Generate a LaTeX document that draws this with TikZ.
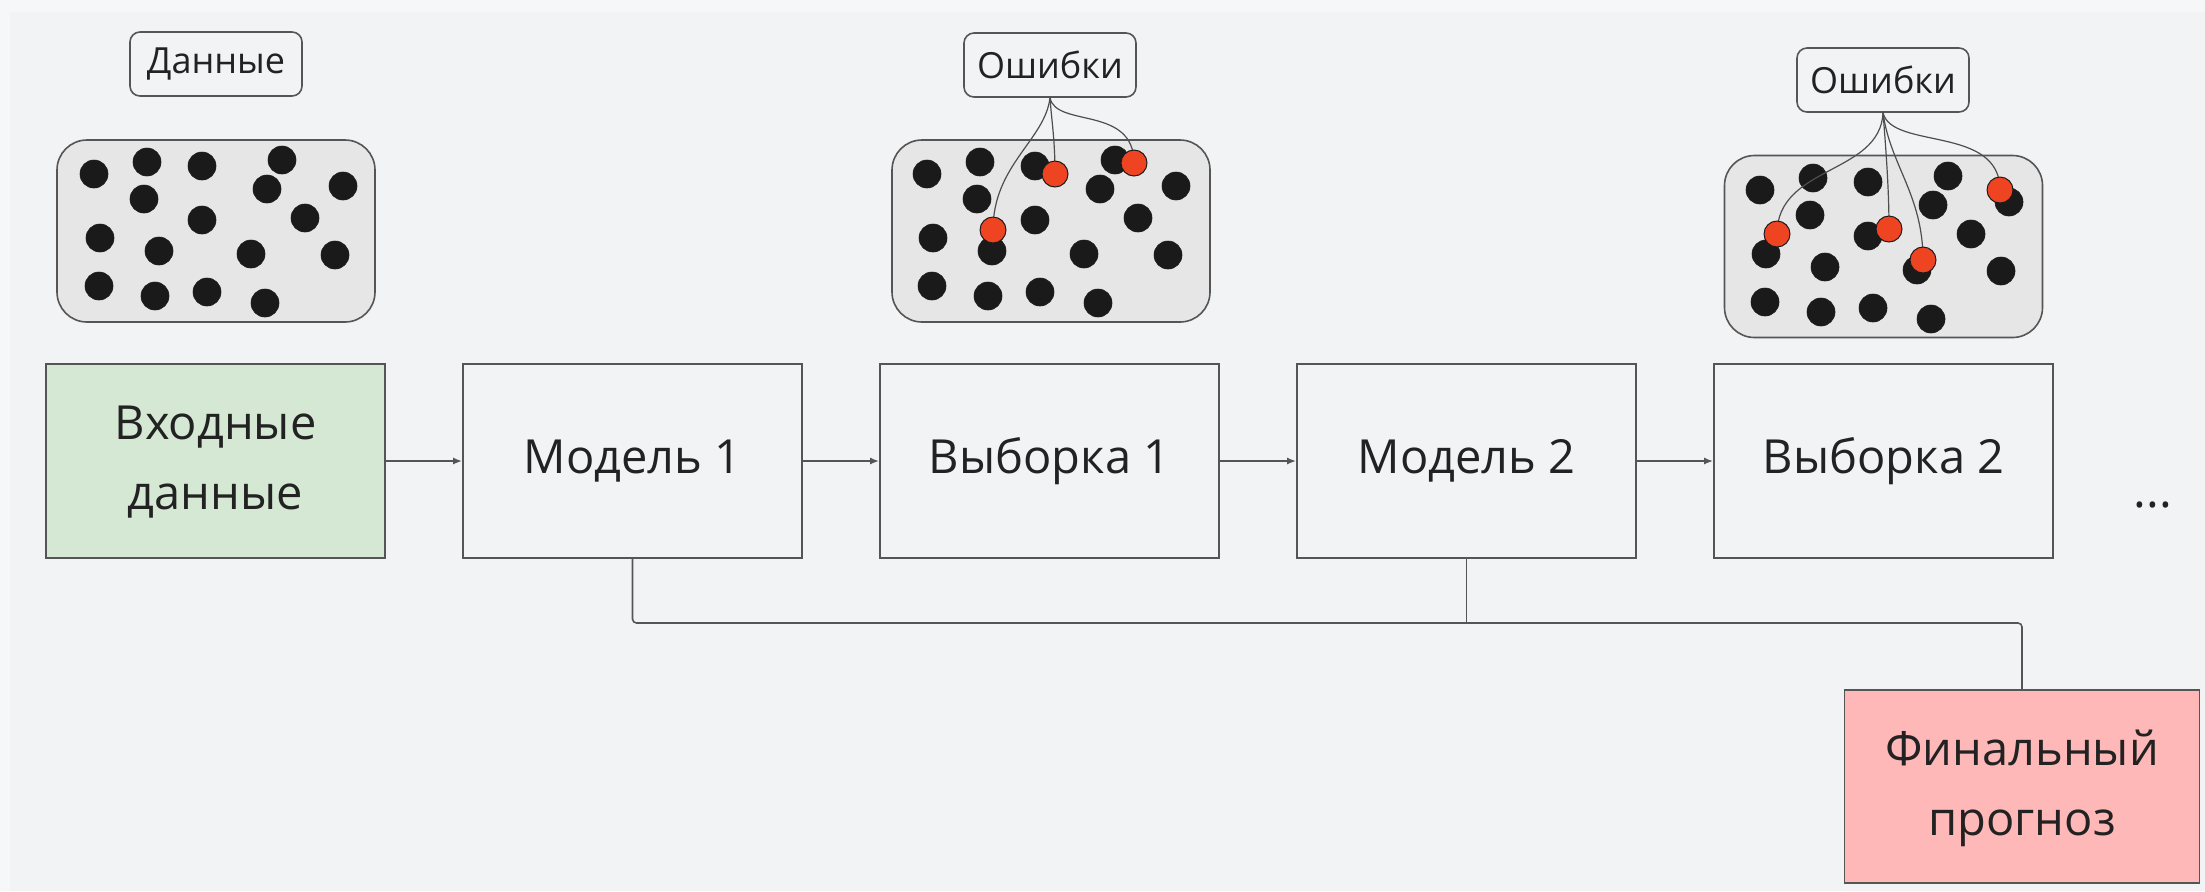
\documentclass[tikz,border=0pt]{standalone}
\usepackage{fontspec}
\setmainfont{Open Sans}
\usetikzlibrary{arrows.meta}
\definecolor{bg}{HTML}{F2F3F5}
\definecolor{bgout}{HTML}{F6F7F8}
\definecolor{edge}{HTML}{555555}
\definecolor{greenfill}{HTML}{D5E8D4}
\definecolor{pinkfill}{HTML}{FFB8B8}
\definecolor{poolfill}{HTML}{E6E6E6}
\definecolor{dot}{HTML}{1A1A1A}
\definecolor{err}{HTML}{EE4422}
\definecolor{txt}{HTML}{222222}
\begin{document}
\begin{tikzpicture}[x=0.5pt,y=-0.5pt,
  stage/.style={draw=edge, line width=0.9pt, fill=bg, minimum width=169.5pt, minimum height=97pt,
    inner sep=0pt, align=center, font=\fontsize{23.5}{34}\selectfont, text=txt},
  tag/.style={draw=edge, line width=0.8pt, fill=bg, rounded corners=5pt, minimum width=86pt,
    minimum height=32pt, inner sep=0pt, font=\fontsize{18}{20}\selectfont, text=txt},
  pool/.style={draw=edge, line width=0.8pt, fill=poolfill, rounded corners=15pt,
    minimum width=159pt, minimum height=91pt, inner sep=0pt},
  flow/.style={draw=edge, line width=0.8pt, -{Latex[length=4.5pt,width=3.5pt]}},
  bus/.style={draw=edge, line width=0.8pt, rounded corners=2pt},
  pick/.style={draw=txt!80, line width=0.6pt},
  errdot/.style={circle, draw=dot, line width=0.5pt, fill=err, minimum size=13pt, inner sep=0pt},
  blackdot/.style={fill=dot, draw=dot, line width=0.3pt},
]
% background
\fill[bgout] (0,0) rectangle (2205,891);
\fill[bg] (10,12) rectangle (2205,891);
\useasboundingbox (0,0) rectangle (2205,891);

% stage boxes
\node[stage, fill=greenfill] (in) at (215.5,461) {\raisebox{-3pt}{\begin{tabular}{@{}c@{}}Входные\\[1pt]данные\end{tabular}}};
\node[stage] (m1) at (632.5,461) {\raisebox{-3pt}{Модель 1}};
\node[stage] (s1) at (1049.5,461) {\raisebox{-3pt}{Выборка 1}};
\node[stage] (m2) at (1466.5,461) {\raisebox{-3pt}{Модель 2}};
\node[stage] (s2) at (1883.5,461) {\raisebox{-3pt}{Выборка 2}};
\node[font=\fontsize{24}{26}\selectfont, text=txt, inner sep=0pt] (dots) at (2153,505) {...};
\node[stage, fill=pinkfill, minimum width=177.5pt, minimum height=96.5pt] (fin) at (2022,786.5) {\raisebox{-3pt}{\begin{tabular}{@{}c@{}}Финальный\\[1pt]прогноз\end{tabular}}};

\draw[flow] (in) -- (m1);
\draw[flow] (m1) -- (s1);
\draw[flow] (s1) -- (m2);
\draw[flow] (m2) -- (s2);

\coordinate (busy) at (0,623);
\draw[bus] (m1.south) -- (m1.south |- busy) -| (fin.north);
\draw[bus] (m2.south) -- (m2.south |- busy);

% labels
\node[tag] (lab0) at (216,64) {Данные};
\node[tag] (lab1) at (1050,65) {Ошибки};
\node[tag] (lab2) at (1883,80) {Ошибки};

% pools
\node[pool] (p0) at (216,231) {};
\node[pool] (p1) at (1051,231) {};
\node[pool] (p2) at (1883.5,246.5) {};

\foreach \dx/\dy in {0/0, 833/0, 1666/16}{
  \begin{scope}[shift={(\dx,\dy)}]
  \foreach \px/\py in {94/174, 147/162, 202/166, 282/160, 343/186, 144/199, 267/189,
      202/220, 305/218, 100/238, 159/251, 251/254, 335/255, 99/286, 155/296, 207/292, 265/303}
    \filldraw[blackdot] (\px,\py) circle[radius=7pt];
  \end{scope}
}

% error picks, box 1
\coordinate (e1a) at (1055,174);
\coordinate (e1b) at (1134,163);
\coordinate (e1c) at (993,230);
\draw[pick] (lab1.south) .. controls (1052,125) and (1055,140) .. (e1a);
\draw[pick] (lab1.south) .. controls (1056,128) and (1134,105) .. (e1b);
\draw[pick] (lab1.south) .. controls (1045,140) and (993,165) .. (e1c);
\node[errdot] (r1a) at (e1a) {};
\node[errdot] (r1b) at (e1b) {};
\node[errdot] (r1c) at (e1c) {};

% error picks, box 2
\coordinate (e2a) at (1777,234);
\coordinate (e2b) at (1889,229);
\coordinate (e2c) at (1923,260);
\coordinate (e2d) at (2000,190);
\draw[pick] (lab2.south) .. controls (1880,175) and (1777,165) .. (e2a);
\draw[pick] (lab2.south) .. controls (1886,150) and (1889,190) .. (e2b);
\draw[pick] (lab2.south) .. controls (1890,165) and (1923,195) .. (e2c);
\draw[pick] (lab2.south) .. controls (1892,150) and (2000,125) .. (e2d);
\node[errdot] (r2a) at (e2a) {};
\node[errdot] (r2b) at (e2b) {};
\node[errdot] (r2c) at (e2c) {};
\node[errdot] (r2d) at (e2d) {};
\end{tikzpicture}
\end{document}
